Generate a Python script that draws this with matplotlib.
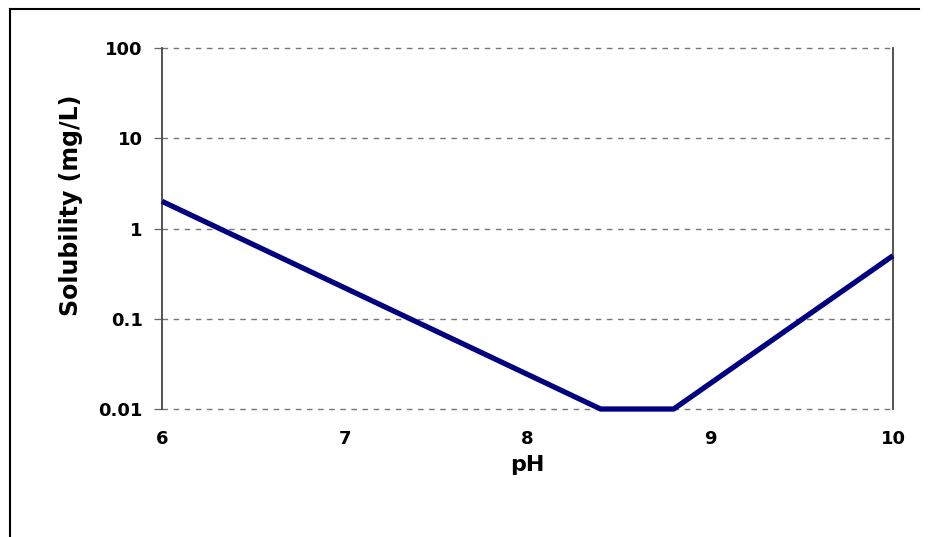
import matplotlib
matplotlib.use("Agg")
import matplotlib.pyplot as plt
from matplotlib.lines import Line2D
from matplotlib.ticker import FixedLocator, FixedFormatter, NullLocator

ph = [6.0, 8.4, 8.8, 10.0]
solubility = [2.0, 0.01, 0.01, 0.5]
x_ticks = [6, 7, 8, 9, 10]
y_ticks = [0.01, 0.1, 1, 10, 100]
y_tick_labels = ["0.01", "0.1", "1", "10", "100"]

plt.rcParams["font.family"] = ["DejaVu Sans"]

W, H = 929, 537
fig = plt.figure(figsize=(W / 100, H / 100), dpi=100)
fig.patch.set_facecolor("white")

# outer frame (top and left edges)
fig.add_artist(Line2D([10 / W, 919 / W], [1 - 9 / H, 1 - 9 / H], color="black", lw=1.5))
fig.add_artist(Line2D([10 / W, 10 / W], [0, 1 - 9 / H], color="black", lw=1.5))

left, right, top, bottom = 162, 893, 48, 409
ax = fig.add_axes([left / W, 1 - bottom / H, (right - left) / W, (bottom - top) / H])

ax.set_yscale("log")
ax.set_xlim(6, 10)
ax.set_ylim(0.01, 100)

for yv in y_ticks:
    ax.axhline(yv, color="#777777", lw=1.0, ls=(0, (4, 4)), zorder=1, clip_on=False)

ax.plot(ph, solubility, color="#000080", lw=3.8, solid_capstyle="butt",
        solid_joinstyle="miter", zorder=3, clip_on=False)

for s in ["top", "bottom"]:
    ax.spines[s].set_visible(False)
for s in ["left", "right"]:
    ax.spines[s].set_color("#444444")
    ax.spines[s].set_linewidth(1.3)

ax.yaxis.set_major_locator(FixedLocator(y_ticks))
ax.yaxis.set_major_formatter(FixedFormatter(y_tick_labels))
ax.yaxis.set_minor_locator(NullLocator())
ax.set_xticks(x_ticks)
ax.set_xticklabels([str(v) for v in x_ticks])

ax.tick_params(axis="y", which="major", length=5.5, width=0.9, color="#666666",
               labelsize=13, pad=8.5)
ax.tick_params(axis="x", which="major", length=0, labelsize=13, pad=15)
for lab in ax.get_xticklabels() + ax.get_yticklabels():
    lab.set_fontweight("bold")

ax.set_xlabel("pH", fontsize=16, fontweight="bold")
ax.set_ylabel("Solubility (mg/L)", fontsize=17, fontweight="bold")
ax.xaxis.set_label_coords(0.4993, -0.128)
ax.yaxis.set_label_coords(-0.108, 0.565)

fig.savefig("out.png", dpi=100, facecolor="white")
